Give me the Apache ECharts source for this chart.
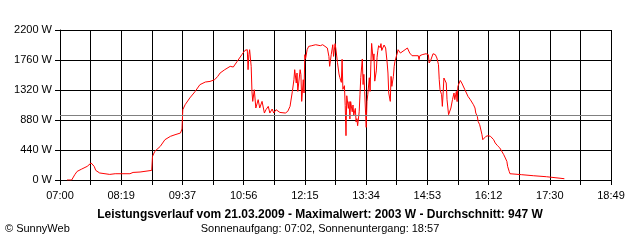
<!DOCTYPE html>
<html><head><meta charset="utf-8">
<script src="https://cdn.jsdelivr.net/npm/echarts@6/dist/echarts.min.js"></script>
<style>html,body{margin:0;padding:0;background:#fff}#c{width:640px;height:240px}</style>
</head><body><div id="c"></div>
<script>
// x values: minutes after 07:00
const tickLabels = ['07:00','08:19','09:37','10:56','12:15','13:34','14:53','16:12','17:30','18:49'];
const spanMinutes = 709;
const yMax = 2200, yStep = 440;
const averageW = 947;
const titleText = 'Leistungsverlauf vom 21.03.2009 - Maximalwert: 2003 W - Durchschnitt: 947 W';
const subText = 'Sonnenaufgang: 07:02, Sonnenuntergang: 18:57';
const creditText = '\u00A9 SunnyWeb';

const minutes = [9,15,17,19,22,28,35,40,41,44,46,51,64,71,90,94,103,118,119,122,129,135,142,148,155,157,158,161,167,174,180,187,193,199,203,206,212,219,223,228,234,238,241,242,243,244,246,247,248,250,252,255,257,260,263,265,268,270,273,275,278,283,290,293,296,299,301,302,304,305,306,309,310,311,313,314,315,316,318,320,324,329,335,338,344,346,347,349,351,352,354,355,357,359,360,362,363,364,366,367,368,369,371,372,373,374,376,377,378,380,381,382,383,385,386,387,389,390,391,392,394,395,396,398,399,400,401,403,404,405,407,408,409,410,412,413,414,417,419,421,422,423,425,426,427,429,430,431,432,434,435,438,440,444,447,450,453,461,462,463,466,468,471,474,475,477,480,483,485,487,488,489,490,491,492,493,494,496,497,498,500,502,503,505,507,508,510,511,512,515,517,519,521,523,525,528,530,532,534,535,537,538,540,541,543,544,546,548,551,554,558,560,563,566,568,571,573,575,576,578,579,581,594,595,609,610,626,628,637,638,649];
const watts   = [0,0,25,78,126,161,200,250,258,200,141,103,82,92,92,111,117,141,346,420,493,591,640,664,689,748,1031,1104,1203,1300,1398,1437,1446,1471,1520,1569,1618,1667,1657,1740,1838,1901,1911,1618,1838,1911,1667,1300,1153,1324,1056,1178,1056,1153,982,1031,1080,982,1041,982,1031,991,982,1006,1080,1300,1471,1618,1422,1569,1300,1618,1544,1153,1471,1276,1838,1780,1911,1960,1970,1984,1970,1984,1936,1813,1667,1838,1984,1813,2000,1921,1725,1555,1505,1432,1770,1330,1383,1090,650,1236,1050,1150,895,1150,1000,1100,950,1050,850,900,796,1000,1250,1500,1775,1400,1550,1300,772,1150,1250,1500,1300,1700,2003,1750,1850,1450,1600,1800,1900,1970,1940,2000,1900,1980,1936,1716,1569,1276,1153,1520,1373,1520,1667,1740,1765,1862,1911,1862,1887,1911,1936,1862,1823,1823,1765,1823,1838,1813,1852,1838,1716,1755,1852,1838,1789,1691,1471,1324,1300,1251,1080,1276,1496,1520,1422,1178,958,982,1056,1178,1276,1178,1300,1150,1373,1460,1422,1398,1324,1324,1226,1178,1153,1104,1056,982,933,860,811,763,664,591,616,640,650,640,591,543,503,469,444,371,323,273,200,126,92,78,78,63,63,48,48,34,34,19,19];

const xStep = spanMinutes / (2 * (tickLabels.length - 1));
const font = 'Liberation Sans';
const chart = echarts.init(document.getElementById('c'), null, {renderer: 'canvas'});
chart.setOption({
  animation: false,
  backgroundColor: '#fff',
  grid: {left: 60, right: 29, top: 30, bottom: 60},
  title: [
    {text: titleText, left: 'center', top: 209, textStyle: {fontFamily: font, fontSize: 12, fontWeight: 'bold', color: '#000'}, padding: 0},
    {text: subText, left: 'center', top: 223, textStyle: {fontFamily: font, fontSize: 11, fontWeight: 'normal', color: '#000'}, padding: 0},
    {text: creditText, left: 5, top: 223, textStyle: {fontFamily: font, fontSize: 11, fontWeight: 'normal', color: '#000'}, padding: 0}
  ],
  xAxis: {
    type: 'value', min: 0, max: spanMinutes, interval: xStep,
    axisLine: {show: true, lineStyle: {color: '#000', width: 1}},
    axisTick: {show: true, length: 5, lineStyle: {color: '#000'}},
    splitLine: {show: true, lineStyle: {color: '#000', width: 1}},
    axisLabel: {
      fontFamily: font, fontSize: 11, color: '#000', margin: 10, showMaxLabel: true, showMinLabel: true, hideOverlap: false,
      formatter: function (v) {
        const i = Math.round(v / xStep);
        return i % 2 === 0 ? (tickLabels[i / 2] || '') : '';
      }
    }
  },
  yAxis: {
    type: 'value', min: 0, max: yMax, interval: yStep,
    axisLine: {show: true, lineStyle: {color: '#000', width: 1}},
    axisTick: {show: true, length: 5, lineStyle: {color: '#000'}},
    splitLine: {show: true, lineStyle: {color: '#000', width: 1}},
    axisLabel: {fontFamily: font, fontSize: 11, color: '#000', margin: 8, formatter: function (v) { return String(v) + ' W'; }}
  },
  series: [{
    type: 'line',
    data: minutes.map((m, i) => [m, watts[i]]),
    showSymbol: false,
    lineStyle: {color: '#ff0000', width: 1},
    z: 3,
    markLine: {
      silent: true, symbol: 'none', label: {show: false},
      lineStyle: {color: '#808080', width: 1, type: 'solid'},
      data: [{yAxis: averageW}]
    }
  }]
});
</script></body></html>
